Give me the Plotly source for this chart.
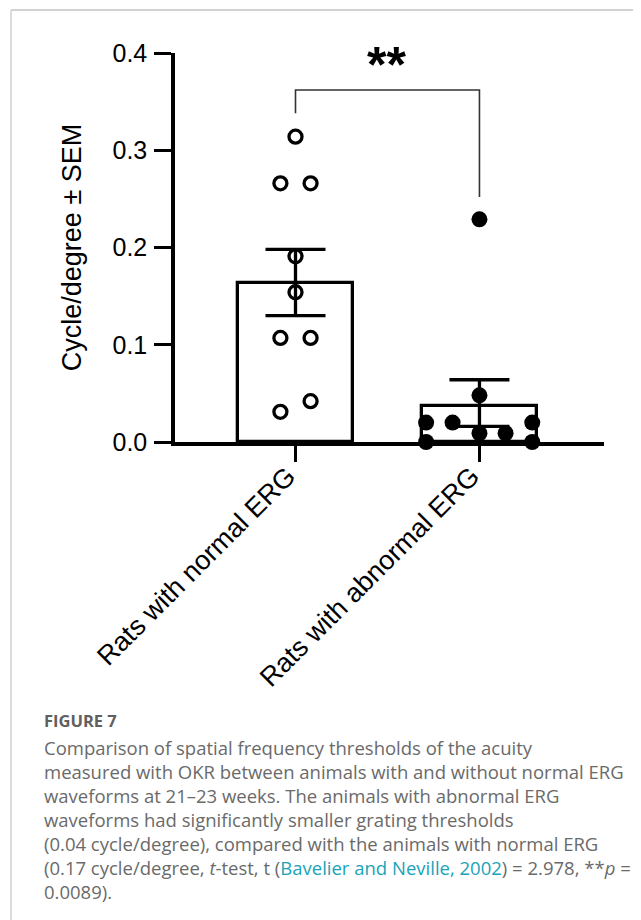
import plotly.graph_objects as go

# ---------------- data ----------------
categories = ["Rats with normal ERG", "Rats with abnormal ERG"]
bar_means = [0.163, 0.037]
sem_plus = [0.035, 0.027]
sem_minus = [0.033, 0.021]

normal_values = [0.314, 0.266, 0.266, 0.191, 0.154, 0.107, 0.107, 0.031, 0.042]
abnormal_values = [0.229, 0.048, 0.020, 0.020, 0.020, 0.009, 0.009, 0.0, 0.0]

bracket_y = [0.338, 0.362, 0.362, 0.252]
signif_label = "**"
signif_y = 0.388

# ---------------- layout constants ----------------
PAGE_OFF = 8                # browser body margin
W, H = 641 - PAGE_OFF, 920 - PAGE_OFF
ML, MR, MT, MB = 175 - PAGE_OFF, 37, 53 - PAGE_OFF, 478
normal_jitter = [0, -0.082, 0.082, 0, 0, -0.082, 0.082, -0.082, 0.082]
abnormal_jitter = [0, 0, -0.29, -0.146, 0.287, 0, 0.142, -0.29, 0.287]

CHART_FONT = "Liberation Sans, Arial, sans-serif"
CAP_FONT = "Open Sans, Lato, sans-serif"


def px2paper(sx, sy):
    x = sx - PAGE_OFF
    y = sy - PAGE_OFF
    return (x - ML) / (W - ML - MR), (H - MB - y) / (H - MT - MB)


fig = go.Figure()

fig.add_trace(go.Bar(
    x=[0, 1], y=bar_means, width=0.63,
    marker=dict(color="white", line=dict(color="black", width=3.3)),
    error_y=dict(type="data", symmetric=False, array=sem_plus, arrayminus=sem_minus,
                 color="black", thickness=3.3, width=30),
    showlegend=False, hoverinfo="skip",
))

fig.add_trace(go.Scatter(
    x=[0 + j for j in normal_jitter], y=normal_values, mode="markers",
    marker=dict(symbol="circle-open", size=13, color="black", line=dict(width=3.3)),
    showlegend=False, cliponaxis=False,
))
fig.add_trace(go.Scatter(
    x=[1 + j for j in abnormal_jitter], y=abnormal_values, mode="markers",
    marker=dict(symbol="circle", size=16, color="black"),
    showlegend=False, cliponaxis=False,
))

# significance bracket
fig.add_trace(go.Scatter(
    x=[0, 0, 1, 1], y=bracket_y, mode="lines",
    line=dict(color="#333333", width=1.6), showlegend=False, cliponaxis=False,
    hoverinfo="skip",
))
fig.add_annotation(x=0.495, y=signif_y, text="<b>" + signif_label + "</b>", showarrow=False,
                   font=dict(family=CHART_FONT, size=50, color="black"),
                   xref="x", yref="y", yanchor="middle")

fig.update_xaxes(
    range=[-0.655, 1.677], tickvals=[0, 1], ticktext=categories, tickangle=-45,
    showline=True, linecolor="black", linewidth=3.5,
    ticks="outside", ticklen=16, tickwidth=3.3, tickcolor="black",
    ticklabelstandoff=-12, ticklabelshift=-8,
    tickfont=dict(family=CHART_FONT, size=27, color="black"),
    showgrid=False, zeroline=False, automargin=False,
)
fig.update_yaxes(
    range=[0, 0.4], tickvals=[0, 0.1, 0.2, 0.3, 0.4],
    ticktext=["0.0", "0.1", "0.2", "0.3", "0.4"],
    showline=True, linecolor="black", linewidth=3.5,
    ticks="outside", ticklen=17, tickwidth=3.3, tickcolor="black",
    ticklabelstandoff=2,
    tickfont=dict(family=CHART_FONT, size=25, color="black"),
    title=dict(text="Cycle/degree ± SEM", font=dict(family=CHART_FONT, size=27, color="black"),
               standoff=24),
    showgrid=False, zeroline=False, automargin=False,
)

# caption
cap_lines = [
    ("<b>FIGURE 7</b>", 720, "#606060", 16.5),
    ("Comparison of spatial frequency thresholds of the acuity", 747, "#6a6a6a", 18.5),
    ("measured with OKR between animals with and without normal ERG", 771, "#6a6a6a", 18.5),
    ("waveforms at 21–23 weeks. The animals with abnormal ERG", 795, "#6a6a6a", 18.5),
    ("waveforms had significantly smaller grating thresholds", 819, "#6a6a6a", 18.5),
    ("(0.04 cycle/degree), compared with the animals with normal ERG", 843, "#6a6a6a", 18.5),
    ("(0.17 cycle/degree, <i>t</i>-test, t (<span style='color:#1AA3B8'>Bavelier and Neville, 2002</span>) = 2.978, **<i>p</i> =", 867, "#6a6a6a", 18.5),
    ("0.0089).", 891, "#6a6a6a", 18.5),
]
for txt, py, col, fs in cap_lines:
    xp, yp = px2paper(42, py)
    fig.add_annotation(x=xp, y=yp, xref="paper", yref="paper", text=txt, showarrow=False,
                       xanchor="left", yanchor="middle", align="left",
                       font=dict(family=CAP_FONT, size=fs, color=col))

# page border lines
x0, y0 = px2paper(11, 10)
x1, _ = px2paper(660, 10)
_, y1 = px2paper(11, 940)
fig.add_shape(type="line", xref="paper", yref="paper", x0=x0, y0=y0, x1=x1, y1=y0,
              line=dict(color="#d2d2d2", width=2))
fig.add_shape(type="line", xref="paper", yref="paper", x0=x0, y0=y0, x1=x0, y1=y1,
              line=dict(color="#d2d2d2", width=1.5))

fig.update_layout(
    width=W, height=H, margin=dict(l=ML, r=MR, t=MT, b=MB, autoexpand=False),
    plot_bgcolor="white", paper_bgcolor="white", showlegend=False, bargap=0,
)

fig.write_html("out.html")
